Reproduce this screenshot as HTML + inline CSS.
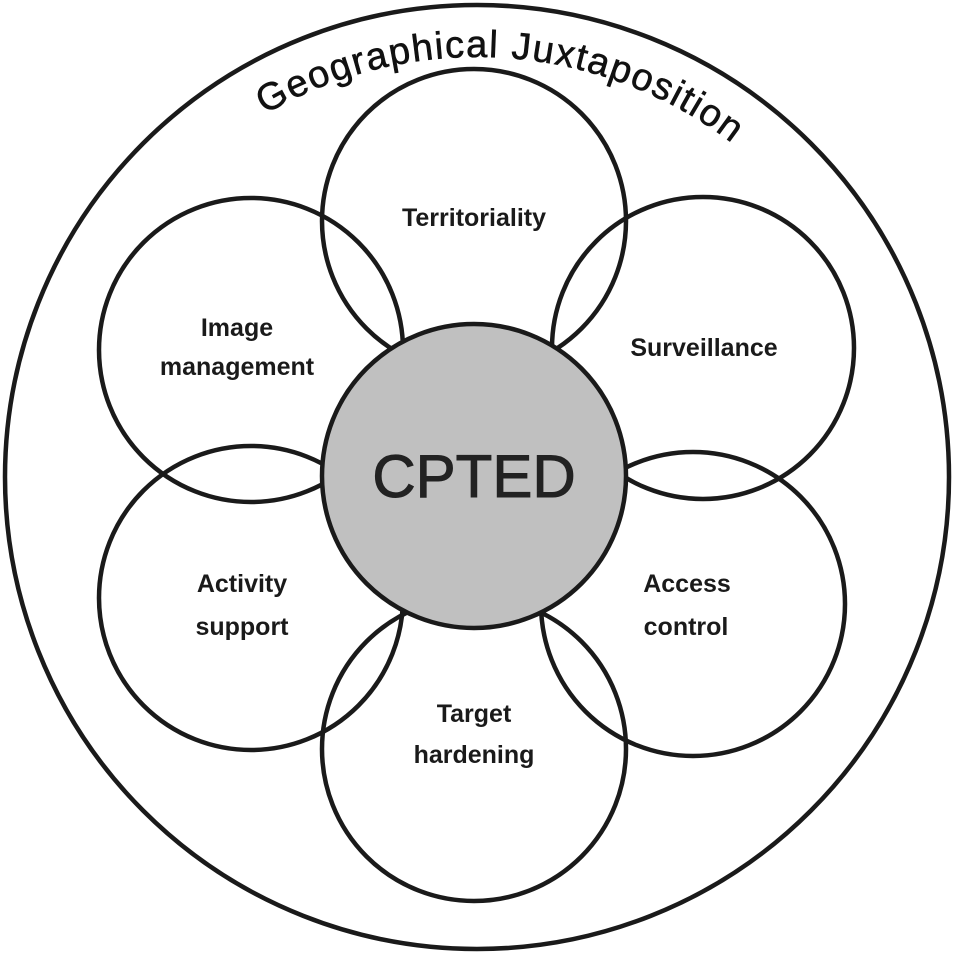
<!DOCTYPE html>
<html><head><meta charset="utf-8"><style>html,body{margin:0;padding:0;background:#fff}svg{display:block}</style></head>
<body>
<svg width="957" height="957" viewBox="0 0 957 957" xmlns="http://www.w3.org/2000/svg" font-family="'Liberation Sans', sans-serif">
<defs><path id="arc" d="M 477 897 A 420 420 0 1 1 477.01 897"/></defs>
<g fill="none" stroke="#1a1a1a" stroke-width="4.5">
<circle cx="477" cy="477" r="472"/>
<circle cx="474" cy="221" r="152"/>
<circle cx="703" cy="348" r="151"/>
<circle cx="251" cy="350" r="152"/>
<circle cx="251" cy="598" r="152"/>
<circle cx="693" cy="604" r="152"/>
<circle cx="474" cy="749" r="152"/>
<circle cx="474" cy="476" r="152" fill="#c0c0c0"/>
</g>
<text font-size="38" fill="#111" text-anchor="middle" letter-spacing="1.5" stroke="#111" stroke-width="0.6"><textPath href="#arc" startOffset="51%">Geographical Juxtaposition</textPath></text>
<g font-size="25" font-weight="bold" fill="#1a1a1a" text-anchor="middle">
<text x="474" y="226">Territoriality</text>
<text x="704" y="356">Surveillance</text>
<text x="237" y="336">Image</text>
<text x="237" y="375">management</text>
<text x="242" y="592">Activity</text>
<text x="242" y="635">support</text>
<text x="687" y="592">Access</text>
<text x="686" y="635">control</text>
<text x="474" y="722">Target</text>
<text x="474" y="763">hardening</text>
</g>
<text x="474" y="497" font-size="60" fill="#222" text-anchor="middle" stroke="#222" stroke-width="1">CPTED</text>
</svg>
</body></html>
